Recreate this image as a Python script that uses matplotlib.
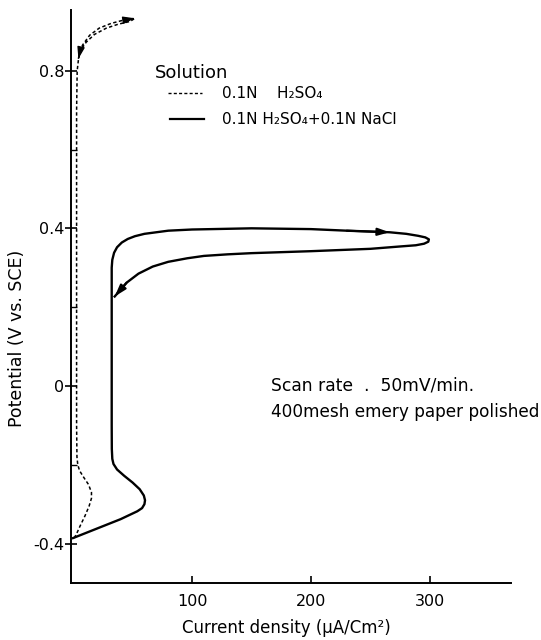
import matplotlib
matplotlib.use("Agg")
import matplotlib.pyplot as plt
from matplotlib.lines import Line2D

# ---- data (current density uA/cm2, potential V vs SCE) ----
nacl_i = [0, 20, 40, 54, 58, 60, 60.5, 59.5, 56, 50, 43, 37, 34, 33, 32.6,
          32.5, 32.5, 32.5, 32.5, 32.5, 33.0, 34.5, 37, 41, 46, 52, 60, 80, 100,
          150, 200, 230, 266, 280, 290, 296, 299, 298.5, 295, 288, 275, 250, 200,
          150, 130, 110, 96, 80, 67, 55, 45, 35]
nacl_v = [-0.386, -0.362, -0.338, -0.318, -0.31, -0.30, -0.29, -0.278, -0.262,
          -0.245, -0.228, -0.212, -0.198, -0.185, -0.16, -0.1, 0.0, 0.1, 0.2, 0.3,
          0.32, 0.338, 0.352, 0.364, 0.373, 0.38, 0.386, 0.394, 0.397, 0.40, 0.398,
          0.394, 0.390, 0.386, 0.381, 0.377, 0.372, 0.366, 0.361, 0.357, 0.354,
          0.348, 0.342, 0.337, 0.334, 0.330, 0.324, 0.315, 0.303, 0.285, 0.262, 0.227]

h2so4_i = [1, 3, 6, 10, 13.5, 15.5, 15.5, 13, 9, 5.5, 4, 3.3, 3, 3, 3, 3, 3.5, 5,
           8, 14, 22, 32, 42, 52, 48, 38, 28, 18, 11, 6, 4.5]
h2so4_v = [-0.386, -0.375, -0.355, -0.33, -0.305, -0.285, -0.27, -0.25, -0.232,
           -0.215, -0.2, -0.18, -0.1, 0.2, 0.5, 0.7, 0.80, 0.84, 0.865, 0.89, 0.908,
           0.92, 0.928, 0.933, 0.925, 0.918, 0.908, 0.892, 0.872, 0.85, 0.83]

x_ticks = [100, 200, 300]
y_ticks = [-0.4, 0.0, 0.4, 0.8]
y_tick_labels = ["-0.4", "0", "0.4", "0.8"]
y_minor = [-0.2, 0.2, 0.6]

W, H = 541, 640
fig = plt.figure(figsize=(W / 100, H / 100), dpi=100)
ax = fig.add_axes([71 / W, 1 - 583 / H, (511 - 71) / W, (583 - 10) / H])

ax.plot(nacl_i, nacl_v, color="black", lw=1.7, solid_joinstyle="round")
ax.plot(h2so4_i, h2so4_v, color="black", lw=1.1, linestyle=(0, (2.2, 1.6)))

def arrow(xs, ys, i, lw):
    ax.annotate("", xy=(xs[i], ys[i]), xytext=(xs[i - 1], ys[i - 1]),
                arrowprops=dict(arrowstyle="-|>,head_length=0.7,head_width=0.22",
                                color="black", lw=lw, shrinkA=0, shrinkB=0))

arrow(nacl_i, nacl_v, 32, 1.5)
arrow(nacl_i, nacl_v, len(nacl_i) - 1, 1.5)
arrow(h2so4_i, h2so4_v, 23, 1.0)
arrow(h2so4_i, h2so4_v, len(h2so4_i) - 1, 1.0)

ax.set_xlim(-1.7, 368)
ax.set_ylim(-0.5, 0.954)
ax.spines["top"].set_visible(False)
ax.spines["right"].set_visible(False)
for s in ("left", "bottom"):
    ax.spines[s].set_linewidth(1.4)

ax.set_xticks(x_ticks)
ax.set_xticklabels([str(t) for t in x_ticks])
ax.set_yticks(y_ticks)
ax.set_yticklabels(y_tick_labels)
ax.set_yticks(y_minor, minor=True)
ax.tick_params(axis="x", direction="in", length=5, width=1.2, pad=8, labelsize=11.5)
ax.tick_params(axis="y", which="major", direction="inout", length=8, width=1.2, pad=1,
               labelsize=11.5)
ax.tick_params(axis="y", which="minor", direction="in", length=4, width=1.0)

fig.text(286 / W, 1 - 628 / H, "Current density (μA/Cm²)", ha="center", va="center",
         fontsize=12)
fig.text(17 / W, 1 - 338 / H, "Potential (V vs. SCE)", ha="center", va="center",
         rotation=90, fontsize=12.5)

# legend
fig.text(155 / W, 1 - 73 / H, "Solution", ha="left", va="center", fontsize=13)
fig.add_artist(Line2D([168 / W, 202 / W], [1 - 93 / H, 1 - 93 / H], color="black",
                      lw=1.0, linestyle=(0, (2.2, 1.6))))
fig.add_artist(Line2D([170 / W, 204 / W], [1 - 119 / H, 1 - 119 / H], color="black",
                      lw=1.6))
fig.text(222 / W, 1 - 93 / H, "0.1N    H₂SO₄", ha="left", va="center", fontsize=11)
fig.text(222 / W, 1 - 119 / H, "0.1N H₂SO₄+0.1N NaCl", ha="left", va="center",
         fontsize=11)

fig.text(271 / W, 1 - 386 / H, "Scan rate  .  50mV/min.", ha="left", va="center",
         fontsize=12.3)
fig.text(271 / W, 1 - 412 / H, "400mesh emery paper polished", ha="left",
         va="center", fontsize=12.2)

fig.savefig("out.png", dpi=100)
